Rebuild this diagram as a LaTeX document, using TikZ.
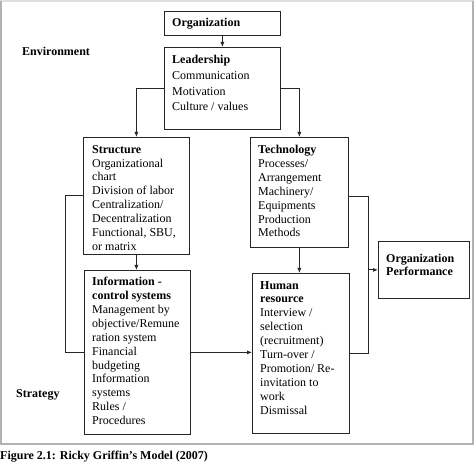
\documentclass[tikz,border=0pt]{standalone}
\usepackage{fontspec}
\setmainfont{Liberation Serif}
\usetikzlibrary{arrows.meta}
\begin{document}
\begin{tikzpicture}[x=1pt,y=-1pt,
  box/.style={draw=black!85, line width=0.8pt, anchor=north west, inner sep=0pt},
  txt/.style={anchor=north west, inner sep=0pt, align=left, font=\fontsize{12}{13.9}\selectfont},
  lbl/.style={anchor=base west, inner sep=0pt, font=\fontsize{12}{13.9}\selectfont\bfseries},
  conn/.style={draw=black!85, line width=0.8pt},
  arr/.style={conn, -{Latex[length=5pt,width=4pt]}}]
\useasboundingbox (0,0) rectangle (474,465);
% outer frame
\draw[gray!25, line width=2pt] (0,1) -- (474,1);
\draw[gray!60, line width=1.6pt] (1,1) -- (1,444) -- (473,444) -- (473,1);
% boxes
\node[box, minimum width=116pt, minimum height=24pt] (org) at (164,11) {};
\node[box, minimum width=116pt, minimum height=82pt] (lead) at (164,47) {};
\node[box, minimum width=106pt, minimum height=117pt] (struct) at (83,137) {};
\node[box, minimum width=98pt, minimum height=110pt] (tech) at (250,137) {};
\node[box, minimum width=106pt, minimum height=164pt] (info) at (84,270) {};
\node[box, minimum width=97pt, minimum height=160pt] (hr) at (252,273) {};
\node[box, minimum width=91pt, minimum height=57pt] (perf) at (378,241) {};
% texts
\node[txt] (orgt) at ([shift={(8pt,-7pt)}]org.north west) {\textbf{Organization}};
\node[txt, font=\fontsize{12}{15.8}\selectfont] (leadt) at ([shift={(8pt,-8pt)}]lead.north west) {\textbf{Leadership}\\Communication\\Motivation\\Culture / values};
\node[txt] (structt) at ([shift={(9pt,-8pt)}]struct.north west) {\textbf{Structure}\\Organizational\\chart\\Division of labor\\Centralization/\\Decentralization\\Functional, SBU,\\or matrix};
\node[txt] (techt) at ([shift={(8pt,-8pt)}]tech.north west) {\textbf{Technology}\\Processes/\\Arrangement\\Machinery/\\Equipments\\Production\\Methods};
\node[txt] (infot) at ([shift={(8pt,-7pt)}]info.north west) {\textbf{Information -}\\\textbf{control systems}\\Management by\\objective/Remune\\ration system\\Financial\\budgeting\\Information\\systems\\Rules /\\Procedures};
\node[txt] (hrt) at ([shift={(8pt,-8pt)}]hr.north west) {\textbf{Human}\\\textbf{resource}\\Interview /\\selection\\(recruitment)\\Turn-over /\\Promotion/ Re-\\invitation to\\work\\Dismissal};
\node[txt, font=\fontsize{12}{12.6}\selectfont] (perft) at ([shift={(8pt,-13pt)}]perf.north west) {\textbf{Organization}\\\textbf{Performance}};
% side labels
\node[lbl] (env) at (22,56) {Environment};
\node[lbl] (strat) at (16,397) {Strategy};
\node[lbl] (cap) at (0,459) {Figure 2.1: Ricky Griffin’s Model (2007)};
% connectors
\draw[arr] (org.south) -- (lead.north);
\draw[arr] (lead.west) -| (struct.north);
\draw[arr] (lead.east) -| (tech.north);
\draw[arr] (struct.south) -- (struct.south |- info.north);
\draw[arr] (tech.south) -- (tech.south |- hr.north);
\draw[conn] (struct.west) -- ++(-18,0) |- (info.west);
\draw[arr] (info.east) -- (info.east -| hr.west);
\draw[conn] ([yshift=-4pt]tech.east) -- ++(20,0) coordinate (jt) |- (hr.east);
\draw[arr] (jt |- perf.west) -- (perf.west);
\end{tikzpicture}
\end{document}
